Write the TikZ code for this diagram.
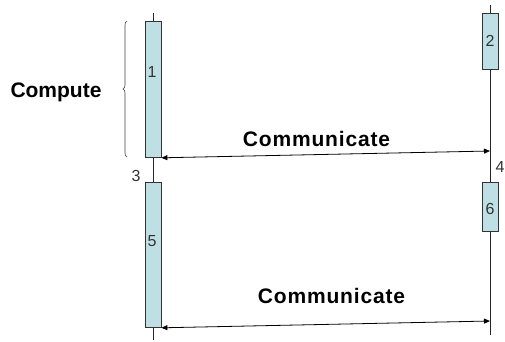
\documentclass[tikz,border=0pt]{standalone}
\usepackage{fontspec}
\setmainfont{Liberation Sans}
\newfontfamily\commfont[LetterSpace=4]{Liberation Sans Bold}
\usetikzlibrary{decorations.pathreplacing,arrows.meta}
\definecolor{boxfill}{RGB}{190,224,228}
\begin{document}
\begin{tikzpicture}[x=1pt,y=-1pt,
  actbox/.style={draw=black!80,fill=boxfill,line width=0.8pt,minimum width=16pt,inner sep=0pt,anchor=north},
  lifeline/.style={draw=black!85,line width=0.8pt},
  msg/.style={draw=black,line width=0.8pt,{Triangle[length=6pt,width=5pt]}-{Triangle[length=6pt,width=5pt]}},
  numlbl/.style={font=\fontsize{16}{18}\selectfont,text=black!80,anchor=base,inner sep=0pt},
  biglbl/.style={font=\fontsize{21}{24}\selectfont\bfseries,anchor=base,inner sep=0pt}]
\useasboundingbox (0,0) rectangle (505,341);
% lifelines
\coordinate (l1top) at (153,13);
\coordinate (l1bot) at (153,340);
\coordinate (l2top) at (490,5);
\coordinate (l2bot) at (490,335);
\draw[lifeline] (l1top) -- (l1bot);
\draw[lifeline] (l2top) -- (l2bot);
% activation boxes
\node[actbox,minimum height=136pt] (b1) at (153,21) {};
\node[actbox,minimum height=56pt] (b2) at (490,13) {};
\node[actbox,minimum height=145pt] (b5) at (153,182) {};
\node[actbox,minimum height=49pt] (b6) at (490,182) {};
\node[numlbl] (n1) at (152,77.5) {1};
\node[numlbl] (n2) at (490,46) {2};
\node[numlbl] (n5) at (152,246) {5};
\node[numlbl] (n6) at (490,214) {6};
\node[numlbl] (n3) at (136,181.5) {3};
\node[numlbl] (n4) at (500,172) {4};
% messages
\coordinate (m1r) at (490,151);
\coordinate (m2r) at (490,321);
\draw[msg] (b1.south east) -- (m1r);
\draw[msg] (b5.south east) -- (m2r);
\node[biglbl,font=\fontsize{21}{24}\commfont] (c1) at (316.5,146) {Communicate};
\node[biglbl,font=\fontsize{21}{24}\commfont] (c2) at (331.5,303) {Communicate};
% brace and compute
\coordinate (brb) at (127,157);
\coordinate (brt) at (127,21);
\draw[black!75,line width=0.6pt,decorate,decoration={brace,amplitude=4pt,aspect=0.5}] (brb) -- (brt);
\node[biglbl] (cmp) at (56,97) {Compute};
\end{tikzpicture}
\end{document}
